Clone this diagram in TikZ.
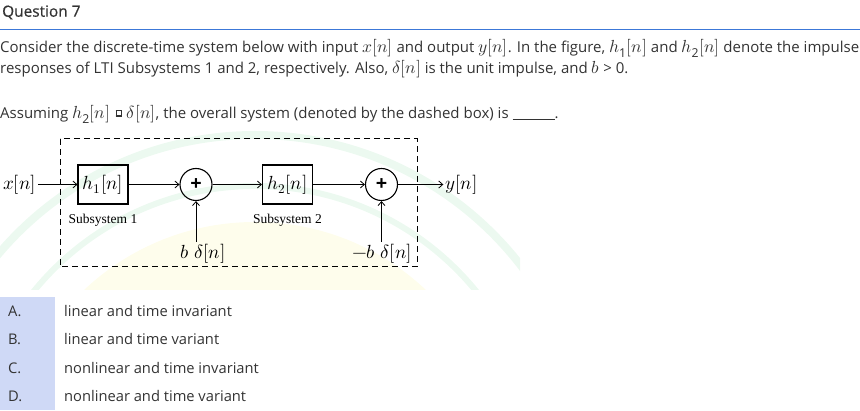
\documentclass[tikz,border=0pt]{standalone}
\usepackage{amsmath}
\usepackage{fontspec}
\usepackage{unicode-math}
\setmainfont{Open Sans}
\setmathfont{Latin Modern Math}
\newfontfamily\titlefont[FakeBold=0.6]{Open Sans}
\newfontfamily\labelfont{Liberation Serif}
\usetikzlibrary{arrows.meta,positioning}
\definecolor{ink}{RGB}{51,51,51}
\definecolor{rulebl}{RGB}{60,120,216}
\definecolor{optbg}{RGB}{207,217,246}
\definecolor{wmgreen}{RGB}{236,249,240}
\definecolor{wmyellow}{RGB}{254,253,236}
% the odd glyph between h_2[n] and delta[n]
\newcommand\tofu{\makebox[9pt]{\rlap{\rule[2.2pt]{6pt}{0.5pt}}\raisebox{4pt}{\fboxsep0pt\fboxrule0.5pt\fbox{\rule{0pt}{4pt}\rule{5pt}{0pt}}}}}
% inline math a bit larger than the text, as in the page
\newcommand\im[1]{{\fontsize{17.5}{17}\selectfont$#1$}}

\begin{document}
\begin{tikzpicture}[x=1pt,y=-1pt,on grid,
  >={Straight Barb[length=4pt,width=7pt]},
  txt/.style={anchor=base west,inner sep=0pt,text=ink,font=\fontsize{15}{17}\selectfont},
  sysbox/.style={draw,line width=1.1pt,minimum width=50pt,minimum height=39pt,inner sep=0pt,font=\fontsize{19}{20}\selectfont},
  adder/.style={draw,circle,line width=1.1pt,minimum size=32pt,inner sep=0pt,font=\fontsize{20}{20}\selectfont\bfseries},
  sig/.style={inner sep=2pt,font=\fontsize{19}{20}\selectfont},
  sublabel/.style={font=\labelfont\fontsize{13.5}{15}\selectfont}]
 \useasboundingbox (0,0) rectangle (860,411);
 % faint watermark
 \begin{scope}
  \clip (0,125) rectangle (520,290);
  \fill[wmyellow] (255,471) circle (249);
  \draw[wmgreen,line width=8pt] (255,471) circle (336);
  \draw[wmgreen,line width=6pt] (255,471) circle (285);
 \end{scope}
 % header and question
 \node[txt,font=\titlefont\fontsize{15.4}{19}\selectfont] (title) at (2,16.7) {Question 7};
 \draw[rulebl,line width=1pt] (0,29.5) -- (860,29.5);
 \node[txt] (line_1) at (0,53) {Consider the discrete-time system below with input \im{x[n]} and output \im{y[n]}. In the figure, \im{h_{\text{1}}[n]} and \im{h_{\text{2}}[n]} denote the impulse};
 \node[txt] (line_2) at (0,74) {responses of LTI Subsystems 1 and 2, respectively. Also, \im{\delta[n]} is the unit impulse, and \im{b} > 0.};
 \node[txt] (line_3) at (0,119) {Assuming \im{h_{\text{2}}[n]} \tofu{} \im{\delta[n]}, the overall system (denoted by the dashed box) is \rule[-1pt]{42pt}{0.6pt}.};
 % block diagram
 \node[sysbox] (h_1) at (103,184.5) {$h_1[n]$};
 \node[adder] (s_1) [right=93pt of h_1] {+};
 \node[sysbox] (h_2) [right=91.5pt of s_1] {$h_2[n]$};
 \node[adder] (s_2) [right=94pt of h_2] {+};
 \node[sig] (x_in) [left=83.5pt of h_1] {$x[n]$};
 \node[sig] (y_out) [right=80pt of s_2] {$y[n]$};
 \node[sublabel] (sub_1) [below=35.5pt of h_1] {Subsystem 1};
 \node[sublabel] (sub_2) [below=35.5pt of h_2] {Subsystem 2};
 \node[sig] (bd_1) [below=69pt of s_1,xshift=7pt] {$b\;\delta[n]$};
 \node[sig] (bd_2) [below=69pt of s_2,xshift=0.5pt] {$-b\;\delta[n]$};
 \path[->,line width=0.8pt]
  (x_in) edge (h_1)
  (h_1) edge (s_1)
  (s_1) edge (h_2)
  (h_2) edge (s_2)
  (s_2) edge (y_out)
  (bd_1.north -| s_1) edge (s_1)
  (bd_2.north -| s_2) edge (s_2);
 \draw[line width=1pt,dash pattern=on 6pt off 4pt] (60,139) rectangle (417,267);
 % answer options
 \fill[optbg] (0,297) rectangle (55,410);
 \foreach \lab/\ans [count=\i from 0] in {A./linear and time invariant,B./linear and time variant,C./nonlinear and time invariant,D./nonlinear and time variant}{
  \node[txt,font=\fontsize{14.7}{17}\selectfont] (lab_\i) at (8,316.7+28.3*\i) {\lab};
  \node[txt,font=\fontsize{14.7}{17}\selectfont] (ans_\i) at (64,316.7+28.3*\i) {\ans};
 }
\end{tikzpicture}
\end{document}
